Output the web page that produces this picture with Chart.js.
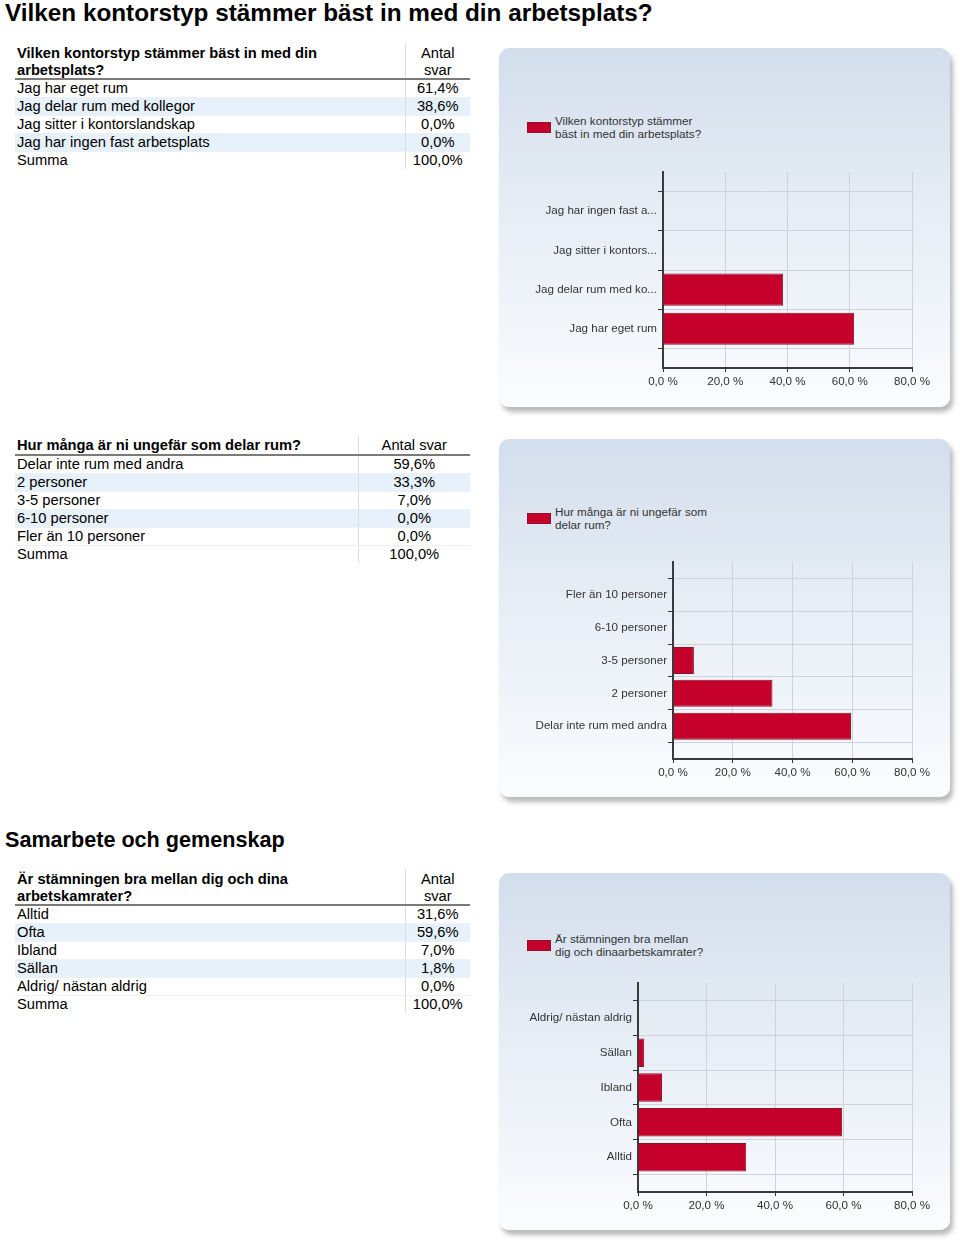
<!DOCTYPE html>
<html><head><meta charset="utf-8">
<script src="https://cdn.jsdelivr.net/npm/chart.js@4/dist/chart.umd.min.js"></script>
<style>
body{margin:0;background:#fff;font-family:"Liberation Sans",Arial,sans-serif;color:#000;width:960px;height:1243px;position:relative;overflow:hidden}
.h1{position:absolute;left:5px;top:-1px;margin:0;font-size:24.3px;line-height:28px;font-weight:bold;white-space:nowrap}
.h2{position:absolute;left:5px;top:828px;margin:0;font-size:21.6px;line-height:24px;font-weight:bold;white-space:nowrap}
table{position:absolute;left:15px;border-collapse:collapse;font-size:14.7px;table-layout:fixed}
th{font-weight:bold;text-align:left;line-height:16.5px;padding:2px 0 0 2px;vertical-align:top;border-bottom:2px solid #7a7a7a;white-space:nowrap}
th.v{font-weight:normal;text-align:center;padding:2px 0 0 0;border-left:1px solid #dcdcdc}
td{line-height:17px;height:17px;padding:0 0 0 2px;white-space:nowrap;border-bottom:1px solid #edf1f5}
td.v{text-align:center;padding:0;border-left:1px solid #dcdcdc}
tr.b td{background:#e7f1fb}
.panel{position:absolute;left:499px;width:451px;border-radius:10px;background:linear-gradient(#d3deec 0%,#e6edf5 45%,#fbfcfe 100%);box-shadow:3px 5px 5px rgba(0,0,0,0.28)}
.panel canvas{position:absolute;left:0;top:0}
.lbox{position:absolute;left:28px;width:22px;height:9px;background:#c4002b;border:1px solid #8a1428}
.ltxt{position:absolute;left:56px;font-size:11.7px;line-height:13px;color:#333;white-space:nowrap}
</style></head>
<body>
<div class="h1">Vilken kontorstyp stämmer bäst in med din arbetsplats?</div>
<div class="h2">Samarbete och gemenskap</div>
<table id="t1" style="top:43px;width:455px"><colgroup><col style="width:390px"><col style="width:65px"></colgroup></table>
<table id="t2" style="top:435px;width:455px"><colgroup><col style="width:343px"><col style="width:112px"></colgroup></table>
<table id="t3" style="top:869px;width:455px"><colgroup><col style="width:390px"><col style="width:65px"></colgroup></table>

<div class="panel" id="p1" style="top:48px;height:359px"><div class="lbox" style="top:74px"></div><div class="ltxt" id="l1" style="top:65.5px"></div><canvas id="c1"></canvas></div>
<div class="panel" id="p2" style="top:439px;height:358px"><div class="lbox" style="top:74px"></div><div class="ltxt" id="l2" style="top:65.5px"></div><canvas id="c2"></canvas></div>
<div class="panel" id="p3" style="top:873px;height:357px"><div class="lbox" style="top:67px"></div><div class="ltxt" id="l3" style="top:58.5px"></div><canvas id="c3"></canvas></div>

<script>
// ---- Data ----
const officeQuestion = "Vilken kontorstyp stämmer bäst in med din arbetsplats?";
const officeCategories = ["Jag har eget rum", "Jag delar rum med kollegor", "Jag sitter i kontorslandskap", "Jag har ingen fast arbetsplats"];
const officeAxisLabels = ["Jag har eget rum", "Jag delar rum med ko...", "Jag sitter i kontors...", "Jag har ingen fast a..."];
const officeValues = [61.4, 38.6, 0.0, 0.0];
const officeLegend = ["Vilken kontorstyp stämmer", "bäst in med din arbetsplats?"];

const shareQuestion = "Hur många är ni ungefär som delar rum?";
const shareCategories = ["Delar inte rum med andra", "2 personer", "3-5 personer", "6-10 personer", "Fler än 10 personer"];
const shareValues = [59.6, 33.3, 7.0, 0.0, 0.0];
const shareLegend = ["Hur många är ni ungefär som", "delar rum?"];

const moodQuestion = "Är stämningen bra mellan dig och dina arbetskamrater?";
const moodCategories = ["Alltid", "Ofta", "Ibland", "Sällan", "Aldrig/ nästan aldrig"];
const moodValues = [31.6, 59.6, 7.0, 1.8, 0.0];
const moodLegend = ["Är stämningen bra mellan", "dig och dinaarbetskamrater?"];

const xTickLabels = ["0,0 %", "20,0 %", "40,0 %", "60,0 %", "80,0 %"];
const sumLabel = "Summa";
const sumValue = 100.0;

// ---- Tables ----
function fmt(v){ return v.toFixed(1).replace('.', ',') + '%'; }
function buildTable(id, headHtml, valHead, cats, vals){
  const t = document.getElementById(id);
  let h = '<tr><th>' + headHtml + '</th><th class="v">' + valHead + '</th></tr>';
  cats.forEach((c,i)=>{ h += '<tr' + (i%2===1?' class="b"':'') + '><td>' + c + '</td><td class="v">' + fmt(vals[i]) + '</td></tr>'; });
  h += '<tr><td style="border-bottom:none">' + sumLabel + '</td><td class="v" style="border-bottom:none">' + fmt(sumValue) + '</td></tr>';
  t.insertAdjacentHTML('beforeend', h);
}
buildTable('t1', 'Vilken kontorstyp stämmer bäst in med din<br>arbetsplats?', 'Antal<br>svar', officeCategories, officeValues);
buildTable('t2', shareQuestion, 'Antal svar', shareCategories, shareValues);
buildTable('t3', 'Är stämningen bra mellan dig och dina<br>arbetskamrater?', 'Antal<br>svar', moodCategories, moodValues);

document.getElementById('l1').innerHTML = officeLegend.join('<br>');
document.getElementById('l2').innerHTML = shareLegend.join('<br>');
document.getElementById('l3').innerHTML = moodLegend.join('<br>');

// ---- Charts ----
const FONT = {family: '"Liberation Sans", Arial, sans-serif', size: 11.6};
function makeChart(canvasId, panelId, axisLabels, values, label, box){
  const panel = document.getElementById(panelId);
  const W = panel.clientWidth, H = panel.clientHeight;
  const cv = document.getElementById(canvasId);
  cv.width = W; cv.height = H; cv.style.width = W+'px'; cv.style.height = H+'px';
  const labels = [''].concat(axisLabels, ['']);
  const data = [null].concat(values, [null]);
  new Chart(cv, {
    type: 'bar',
    data: { labels: labels, datasets: [{ label: label, data: data,
      backgroundColor: '#c4002b', borderColor: '#8a1428', borderWidth: 1,
      categoryPercentage: 1, barPercentage: 0.82 }] },
    options: {
      indexAxis: 'y', responsive: false, animation: false,
      layout: { padding: { left: 0, top: box.top, right: W - box.right, bottom: 0 } },
      plugins: { legend: { display: false }, tooltip: { enabled: false } },
      scales: {
        x: { type: 'linear', min: 0, max: 80, offset: false,
          ticks: { stepSize: 20, color: '#333', font: FONT, padding: 3,
                   callback: (v, i) => xTickLabels[i] },
          grid: { color: '#cfd3d9', lineWidth: 1, tickLength: 4, tickColor: '#333', drawTicks: true },
          border: { color: '#3a3a3a', width: 2 },
          afterFit: s => { s.height = H - box.bottom; } },
        y: { type: 'category', reverse: true, offset: false,
          ticks: { color: '#333', font: FONT, padding: 1, autoSkip: false },
          grid: { color: '#cfd3d9', lineWidth: 1, tickLength: 5, tickColor: '#333' },
          border: { color: '#3a3a3a', width: 2 },
          afterFit: s => { s.width = box.left; } }
      }
    }
  });
}
makeChart('c1', 'p1', officeAxisLabels, officeValues, officeQuestion, {left:164, right:413, top:124, bottom:320});
makeChart('c2', 'p2', shareCategories, shareValues, shareQuestion, {left:174, right:413, top:123, bottom:320});
makeChart('c3', 'p3', moodCategories, moodValues, moodQuestion, {left:139, right:413, top:110, bottom:319});
</script>
</body></html>
